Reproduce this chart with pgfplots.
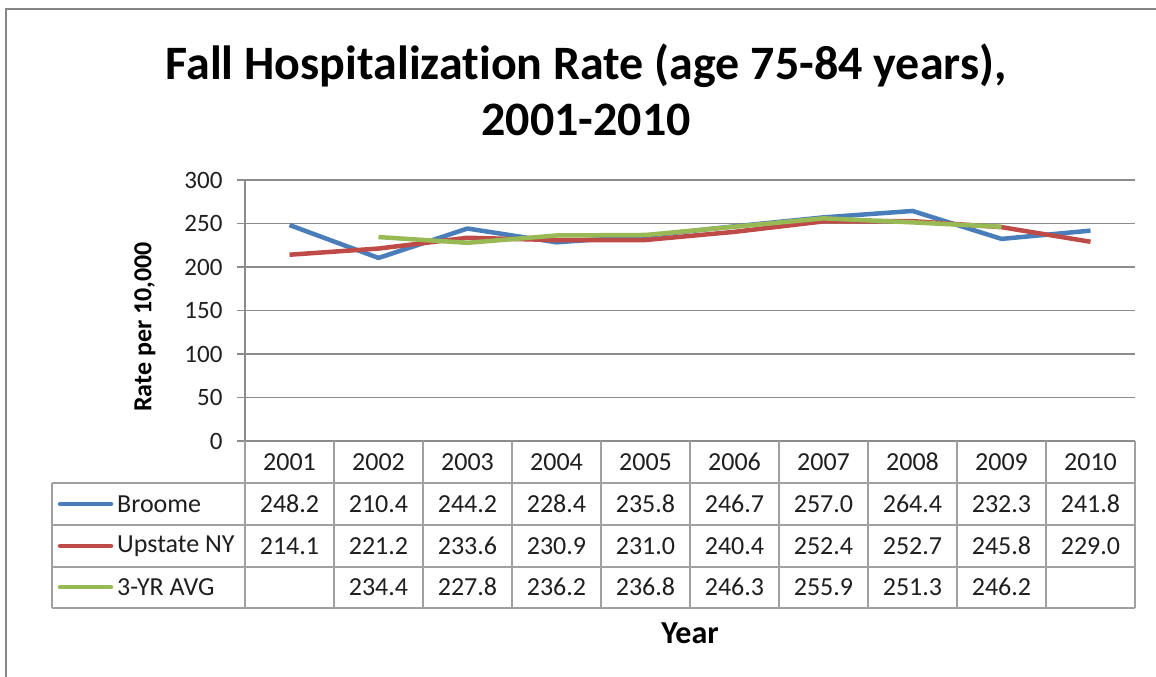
\documentclass[border=0pt]{standalone}
\usepackage{fontspec}
\setmainfont{Carlito}[Ligatures={NoCommon}]
\usepackage{pgfplots}
\pgfplotsset{compat=1.18}
\definecolor{cBroome}{HTML}{4A7EBB}
\definecolor{cUp}{HTML}{BE4B48}
\definecolor{cAvg}{HTML}{98B954}
\definecolor{cGrid}{HTML}{8C8C8C}
\definecolor{cTab}{HTML}{A0A0A0}
\definecolor{cFrame}{HTML}{868686}
\newcommand{\fs}[1]{\fontsize{#1}{#1}\selectfont}
\begin{document}
\begin{tikzpicture}[x=1pt,y=1pt]
\useasboundingbox (0,0) rectangle (1156,677);
\clip (0,0) rectangle (1156,677);
\fill[white] (0,0) rectangle (1156,677);
\draw[cFrame, line width=2.5pt] (6,-20) -- (6,668) -- (1180,668);
% title
\node[font=\fs{48}\bfseries] at (586,677-66) {Fall Hospitalization Rate (age 75-84 years),};
\node[font=\fs{48}\bfseries] at (586,677-120) {2001-2010};
\begin{axis}[
  at={(245pt,236pt)}, anchor=south west,
  scale only axis, width=890pt, height=261pt,
  xmin=-0.5, xmax=9.5, ymin=0, ymax=300,
  xtick=\empty, ytick={0,50,...,300},
  axis x line=none, axis y line*=left,
  axis line style={cGrid, line width=1.2pt},
  ymajorgrids, grid style={cGrid, line width=1.2pt},
  tick align=outside, major tick length=8pt,
  tick style={cGrid, line width=1.2pt},
  yticklabel style={font=\fs{25}, text=black!88, xshift=-11pt},
  /pgf/number format/assume math mode=true,
  clip=false,
]
\addplot[cBroome, line width=4.5pt, line join=round] coordinates {(0,248.2)(1,210.4)(2,244.2)(3,228.4)(4,235.8)(5,246.7)(6,257.0)(7,264.4)(8,232.3)(9,241.8)};
\addplot[cUp, line width=4.5pt, line join=round] coordinates {(0,214.1)(1,221.2)(2,233.6)(3,230.9)(4,231.0)(5,240.4)(6,252.4)(7,252.7)(8,245.8)(9,229.0)};
\addplot[cAvg, line width=4.5pt, line join=round] coordinates {(1,234.4)(2,227.8)(3,236.2)(4,236.8)(5,246.3)(6,255.9)(7,251.3)(8,246.2)};
\end{axis}
% data table
\begin{scope}[cTab, line width=1.5pt]
\draw (52,677-483) -- (1135,677-483);
\draw (52,677-525) -- (1135,677-525);
\draw (52,677-567) -- (1135,677-567);
\draw (52,677-608) -- (1135,677-608);
\draw (52,677-483) -- (52,677-608);
\foreach \k in {0,...,10} { \draw ({245+89*\k},677-441) -- ({245+89*\k},677-608); }
\end{scope}
\foreach \yr [count=\i from 0] in {2001,2002,2003,2004,2005,2006,2007,2008,2009,2010}
  \node[font=\fs{26}, text=black!88] at ({289.5+89*\i},677-462) {\yr};
\foreach \v [count=\i from 0] in {248.2,210.4,244.2,228.4,235.8,246.7,257.0,264.4,232.3,241.8}
  \node[font=\fs{26}, text=black!88] at ({289.5+89*\i},677-504) {\v};
\foreach \v [count=\i from 0] in {214.1,221.2,233.6,230.9,231.0,240.4,252.4,252.7,245.8,229.0}
  \node[font=\fs{26}, text=black!88] at ({289.5+89*\i},677-546) {\v};
\foreach \v [count=\i from 1] in {234.4,227.8,236.2,236.8,246.3,255.9,251.3,246.2}
  \node[font=\fs{26}, text=black!88] at ({289.5+89*\i},677-587) {\v};
% legend keys
\draw[cBroome, line width=4.5pt, line cap=round] (60,677-504) -- (111,677-504);
\draw[cUp, line width=4.5pt, line cap=round] (60,677-546) -- (111,677-546);
\draw[cAvg, line width=4.5pt, line cap=round] (60,677-587) -- (111,677-587);
\node[font=\fs{26}, text=black!88, anchor=west, inner sep=0pt] at (117,677-504) {Broome};
\node[font=\fs{26}, text=black!88, anchor=west, inner sep=0pt] at (117,677-546) {Upstate NY};
\node[font=\fs{26}, text=black!88, anchor=west, inner sep=0pt] at (117,677-587) {3-YR AVG};
% axis titles
\node[font=\fs{26}\bfseries, rotate=90] at (145,677-327) {Rate per 10,000};
\node[font=\fs{32}\bfseries] at (690,677-633) {Year};
\end{tikzpicture}
\end{document}
